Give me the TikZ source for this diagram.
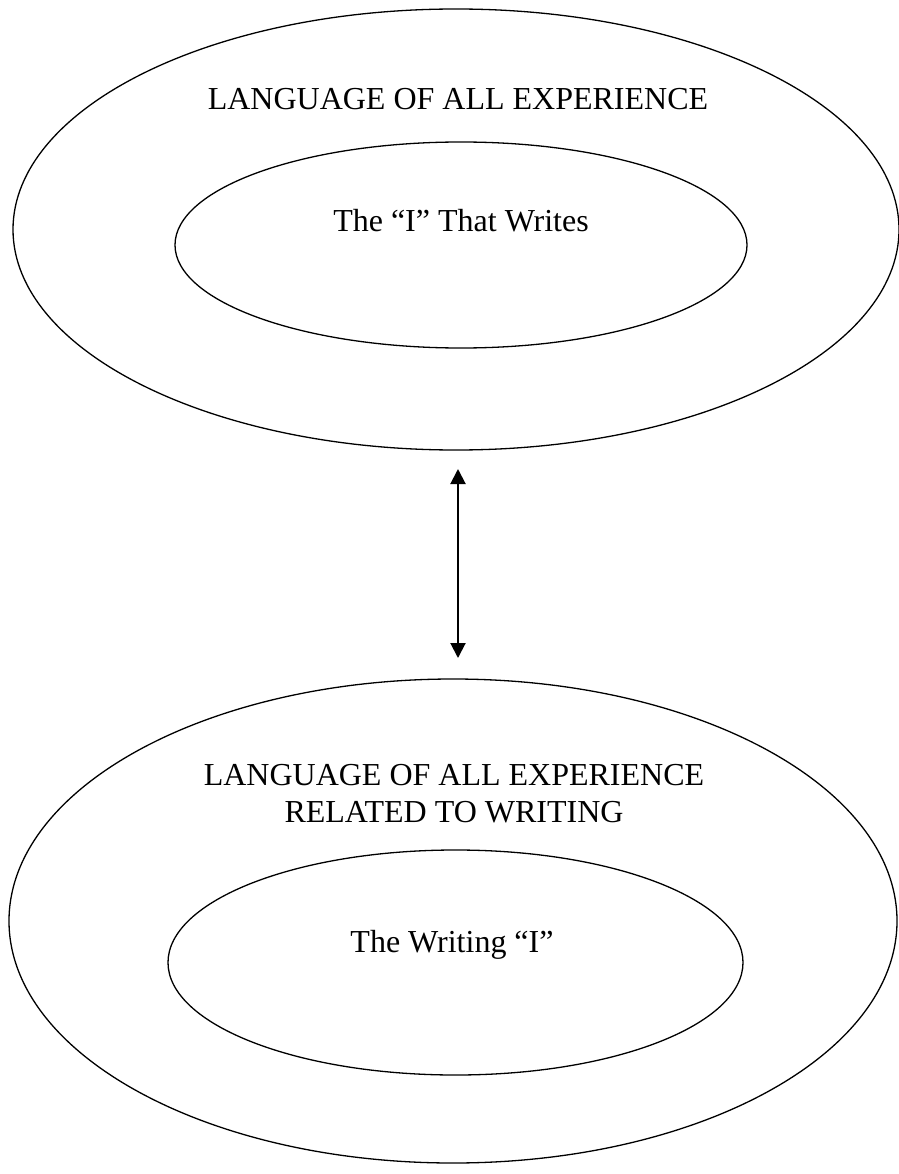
\documentclass[tikz,border=0pt]{standalone}
\usepackage{fontspec}
\setmainfont{Liberation Serif}
\usetikzlibrary{shapes.geometric,arrows.meta}
\begin{document}
\begin{tikzpicture}[x=1pt,y=-1pt,
  ring/.style={draw=black,line width=1.3pt,ellipse,inner sep=0pt,outer sep=0pt},
  label/.style={inner sep=0pt,anchor=base,font=\fontsize{32}{37}\selectfont},
  dblarrow/.style={line width=2pt,{Triangle[length=15pt,width=15pt]}-{Triangle[length=15pt,width=15pt]}}]
\useasboundingbox[fill=white] (0,0) rectangle (898,1174);
% top group
\node[ring,minimum width=886pt,minimum height=441pt] (topouter) at (456,229.5) {};
\node[ring,minimum width=572pt,minimum height=206pt] (topinner) at (461,245) {};
\node[label] (toplabel) at (458,110) {LANGUAGE OF ALL EXPERIENCE};
\node[label] (topinnerlabel) at (461,232) {The “I” That Writes};
% bottom group
\node[ring,minimum width=888pt,minimum height=484pt] (botouter) at (453,921) {};
\node[ring,minimum width=575pt,minimum height=225pt] (botinner) at (455.5,962.5) {};
\node[label] (botlabela) at (454,785) {LANGUAGE OF ALL EXPERIENCE};
\node[label] (botlabelb) at (454,822) {RELATED TO WRITING};
\node[label] (botinnerlabel) at (452,952) {The Writing “I”};
% connector
\draw[dblarrow,shorten <=19pt,shorten >=21pt] ([xshift=2pt]topouter.south) -- ([xshift=2pt]topouter.south |- botouter.north);
\end{tikzpicture}
\end{document}
